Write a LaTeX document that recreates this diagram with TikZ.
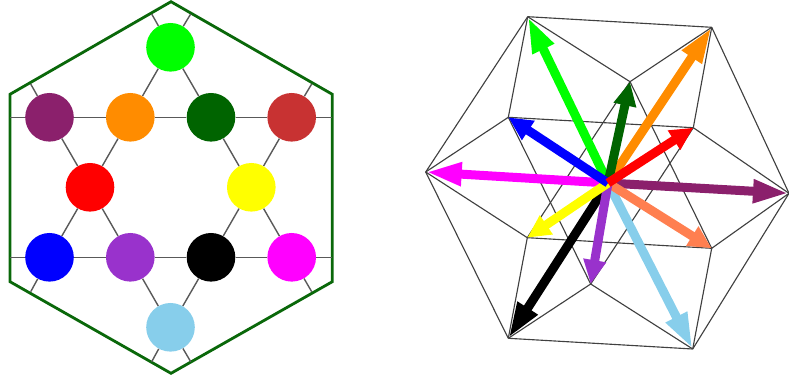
\documentclass[tikz,border=0pt]{standalone}
\usepackage{tikz}
\usetikzlibrary{arrows.meta}
\definecolor{cgreen}{RGB}{0,255,0}
\definecolor{corange}{RGB}{255,140,0}
\definecolor{cdkgreen}{RGB}{0,100,0}
\definecolor{cplum}{RGB}{139,32,108}
\definecolor{cbrown}{RGB}{200,50,50}
\definecolor{ccoral}{RGB}{255,127,80}
\definecolor{cpurple}{RGB}{153,50,204}
\definecolor{csky}{RGB}{135,206,235}
\definecolor{chex}{RGB}{10,104,10}
\definecolor{cred}{RGB}{255,0,0}
\definecolor{cyellow}{RGB}{255,255,0}
\definecolor{cblue}{RGB}{0,0,255}
\definecolor{cmagenta}{RGB}{255,0,255}
\tikzset{
  dot/.style={circle,fill=#1,minimum size=12.15mm,inner sep=0pt},
  hexln/.style={line width=2pt,chex,line join=miter},
  stub/.style={line width=1pt,black!65},
  edgeln/.style={line width=0.8pt,black!75},
  ray/.style={line width=6.4pt},
}
\begin{document}
\begin{tikzpicture}[x=0.025cm,y=-0.025cm]
  \useasboundingbox (0,0) rectangle (789,380);
  % outer hexagon
  \draw[hexln] (171,1.7)--(332.3,94.3)--(332.3,281.7)--(171,373.3)--(10,281.7)--(10,94.3)--cycle;
  % star points
  \node[dot=cgreen] (lgreen) at (170.5,47.3) {};
  \node[dot=cplum] (lplum) at (49.5,117.3) {};
  \node[dot=corange] (lorange) at (130.3,117.3) {};
  \node[dot=cdkgreen] (ldkgreen) at (211,117.3) {};
  \node[dot=cbrown] (lbrown) at (291.7,117.3) {};
  \node[dot=cred] (lred) at (90,187.3) {};
  \node[dot=cyellow] (lyellow) at (251.3,187.3) {};
  \node[dot=cblue] (lblue) at (49.5,257.3) {};
  \node[dot=cpurple] (lpurple) at (130.3,257.3) {};
  \node[dot=black] (lblack) at (211,257.3) {};
  \node[dot=cmagenta] (lmagenta) at (291.7,257.3) {};
  \node[dot=csky] (lsky) at (170.5,327.3) {};
  \foreach \a/\b in {lgreen/lorange,lgreen/ldkgreen,lplum/lorange,lorange/ldkgreen,ldkgreen/lbrown,
      lplum/lred,lorange/lred,ldkgreen/lyellow,lbrown/lyellow,lred/lblue,lred/lpurple,
      lyellow/lblack,lyellow/lmagenta,lblue/lpurple,lpurple/lblack,lblack/lmagenta,
      lpurple/lsky,lblack/lsky}
    \draw[stub] (\a)--(\b);
  % stubs running out to the hexagon
  \coordinate (s1) at (151.7,14);
  \coordinate (s2) at (190.7,14);
  \coordinate (s3) at (30.7,84);
  \coordinate (s4) at (311.7,84);
  \coordinate (s5) at (10,117.3);
  \coordinate (s6) at (332.3,117.3);
  \coordinate (s7) at (10,257.3);
  \coordinate (s8) at (332.3,257.3);
  \coordinate (s9) at (30.7,291.7);
  \coordinate (s10) at (311.7,291.7);
  \coordinate (s11) at (151.7,361.7);
  \coordinate (s12) at (190.7,361.7);
  \foreach \a/\b in {lgreen/s1,lgreen/s2,lplum/s3,lbrown/s4,lplum/s5,lbrown/s6,
      lblue/s7,lmagenta/s8,lblue/s9,lmagenta/s10,lsky/s11,lsky/s12}
    \draw[stub] (\a)--(\b);
  % projected polytope
  \coordinate (C) at (608,183);
  \coordinate (rgreen) at (527.7,16.7);
  \coordinate (rorange) at (711.7,27.3);
  \coordinate (rdkgreen) at (630,81.7);
  \coordinate (rblue) at (508.3,117.3);
  \coordinate (rred) at (693.3,127.7);
  \coordinate (rmagenta) at (425.7,172);
  \coordinate (rplum) at (789,193.3);
  \coordinate (ryellow) at (527.3,237.7);
  \coordinate (rcoral) at (711.7,248.3);
  \coordinate (rpurple) at (590.7,284);
  \coordinate (rblack) at (508.3,338.3);
  \coordinate (rsky) at (692.7,349);
  \foreach \a/\b in {rgreen/rorange,rgreen/rdkgreen,rorange/rdkgreen,rgreen/rblue,rorange/rred,
      rblue/rred,rgreen/rmagenta,rblue/rmagenta,rorange/rplum,rred/rplum,rdkgreen/ryellow,
      rdkgreen/rcoral,rblue/rpurple,rred/rpurple,rmagenta/ryellow,rmagenta/rblack,ryellow/rblack,
      ryellow/rcoral,rcoral/rplum,rcoral/rsky,rblack/rpurple,rpurple/rsky,rblack/rsky,rplum/rsky}
    \draw[edgeln] (\a)--(\b);
  % arrows from the centre
  \foreach \t/\c/\l in {rgreen/cgreen/36,rorange/corange/36,rdkgreen/cdkgreen/24,rmagenta/cmagenta/36,
      rplum/cplum/36,rblack/black/36,rsky/csky/36,rcoral/ccoral/23,rpurple/cpurple/24,
      ryellow/cyellow/23,rblue/cblue/24,rred/cred/23}
    \draw[ray,\c,-{Triangle[length=\l*0.25mm,width=5.4mm]}] (C)--(\t);
\end{tikzpicture}
\end{document}
